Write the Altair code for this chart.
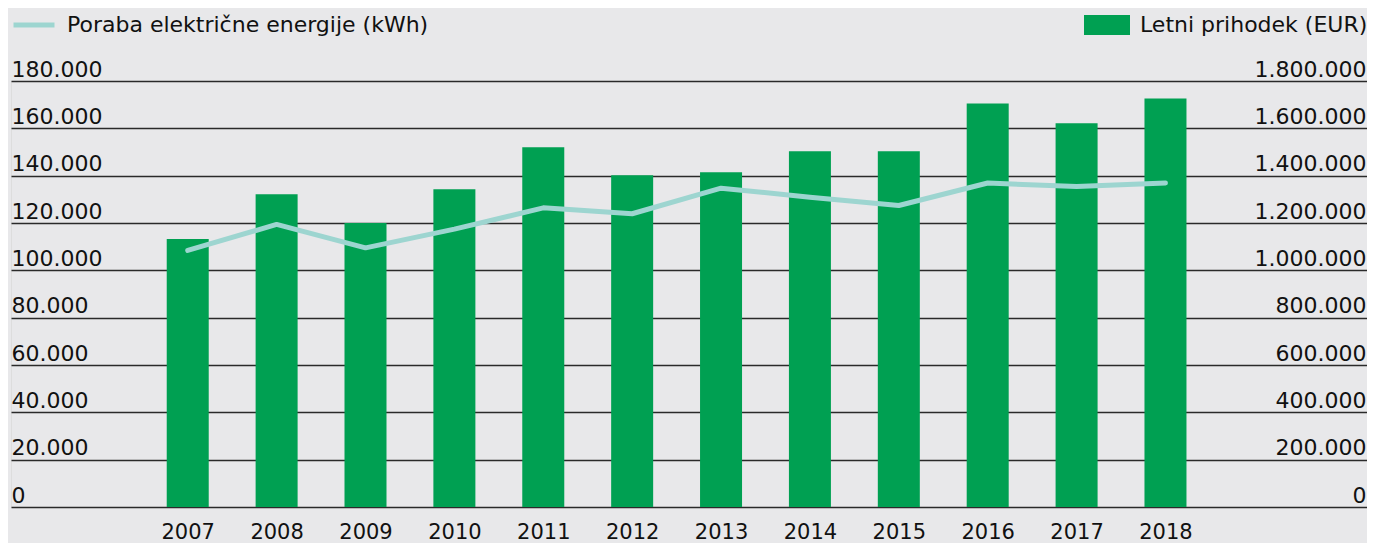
import altair as alt
import pandas as pd

years = [2007, 2008, 2009, 2010, 2011, 2012, 2013, 2014, 2015, 2016, 2017, 2018]
revenue_eur = [1132000, 1322000, 1200000, 1343000, 1520000, 1402000, 1414000,
               1503000, 1503000, 1705000, 1621000, 1726000]
consumption_kwh = [108400, 119400, 109500, 117400, 126400, 123900, 134700,
                   130900, 127400, 136900, 135400, 136900]
line_label = "Poraba električne energije (kWh)"
bar_label = "Letni prihodek (EUR)"
left_ticks = [0, 20000, 40000, 60000, 80000, 100000, 120000, 140000, 160000, 180000]
right_ticks = [0, 200000, 400000, 600000, 800000, 1000000, 1200000, 1400000, 1600000, 1800000]

df = pd.DataFrame({
    "year": years,
    "revenue": revenue_eur,
    "consumption": consumption_kwh,
    "s_line": [line_label] * len(years),
    "s_bar": [bar_label] * len(years),
})

FONT = "DejaVu Sans"
BG = "#e8e8ea"
GREEN = "#00a052"
TEAL = "#9dd5d0"
TXT = "#111111"

xscale = alt.Scale(domain=[2005.068, 2020.211], nice=False, zero=False)
xaxis = alt.Axis(values=years, format="d", title=None, grid=False, domain=False,
                 ticks=False, tickSize=0, labelPadding=14, labelFontSize=21,
                 labelColor=TXT, labelFont=FONT, labelOverlap=False)

dot_expr = "replace(format(datum.value, ','), /,/g, '.')"

base = alt.Chart(df)

bars = base.mark_bar(size=42).encode(
    x=alt.X("year:Q", scale=xscale, axis=xaxis),
    y=alt.Y("revenue:Q",
            scale=alt.Scale(domain=[0, 1800000], nice=False),
            axis=alt.Axis(orient="right", values=right_ticks, title=None, grid=False,
                          domain=False, ticks=False, tickSize=0, labelPadding=-1,
                          labelAlign="right", labelBaseline="bottom",
                          labelFontSize=22, labelColor=TXT, labelFont=FONT,
                          labelExpr=dot_expr, labelOverlap=False)),
    fill=alt.Fill("s_bar:N", scale=alt.Scale(range=[GREEN]),
                  legend=alt.Legend(orient="none", legendX=1073, legendY=-79,
                                    title=None, padding=0,
                                    symbolType="M-1,-0.435L1,-0.435L1,0.435L-1,0.435Z",
                                    symbolSize=2116, symbolStrokeWidth=0,
                                    labelOffset=10, labelFontSize=22,
                                    labelFont=FONT, labelColor=TXT, labelLimit=0)),
)

line = base.mark_line(strokeWidth=5, strokeCap="round", strokeJoin="round").encode(
    x=alt.X("year:Q", scale=xscale, axis=xaxis),
    y=alt.Y("consumption:Q",
            scale=alt.Scale(domain=[0, 180000], nice=False),
            axis=alt.Axis(orient="left", values=left_ticks, title=None, grid=True,
                          gridColor="#2a2a2a", gridWidth=1.5, domain=False,
                          ticks=False, tickSize=0, labelPadding=0,
                          labelAlign="left", labelBaseline="bottom",
                          labelFontSize=22, labelColor=TXT, labelFont=FONT,
                          labelExpr=dot_expr, labelOverlap=False)),
    stroke=alt.Stroke("s_line:N", scale=alt.Scale(range=[TEAL]),
                      legend=alt.Legend(orient="none", legendX=0, legendY=-79,
                                        title=None, padding=0, symbolType="stroke",
                                        symbolSize=1681, symbolStrokeWidth=5,
                                        labelOffset=10, labelFontSize=22,
                                        labelFont=FONT, labelColor=TXT, labelLimit=0)),
)

chart = alt.layer(bars, line).resolve_scale(
    y="independent", fill="independent", stroke="independent"
).properties(
    width=1356, height=426,
    padding={"left": 3, "top": 73, "right": 0, "bottom": 36},
    autosize=alt.AutoSizeParams(type="none"),
    background=BG,
).configure_view(strokeWidth=0).configure(font=FONT)

chart.save("out.html", embed_options={"renderer": "svg", "actions": False})
